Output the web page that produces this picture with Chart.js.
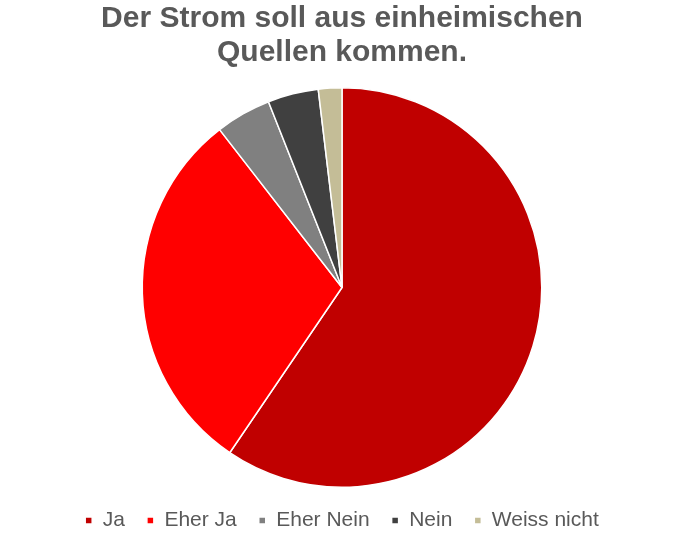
<!DOCTYPE html>
<html><head><meta charset="utf-8">
<script src="https://cdn.jsdelivr.net/npm/chart.js@4.4.1/dist/chart.umd.min.js"></script>
<style>html,body{margin:0;padding:0;background:#fff;}#wrap{width:696px;height:544px;}</style>
</head><body><div id="wrap"><canvas id="c" width="696" height="544"></canvas></div>
<script>
const categories = ["Ja", "Eher Ja", "Eher Nein", "Nein", "Weiss nicht"];
const values = [59.5, 30, 4.5, 4.1, 1.9];
const colors = ["#C00000", "#FF0000", "#808080", "#404040", "#C4BD97"];
const titleLines = ["Der Strom soll aus einheimischen", "Quellen kommen."];

new Chart(document.getElementById('c'), {
  type: 'pie',
  data: {
    labels: categories,
    datasets: [{ data: values, backgroundColor: colors, borderColor: '#ffffff', borderWidth: 1.5 }]
  },
  options: {
    responsive: false,
    animation: false,
    layout: { padding: { top: 0, bottom: 3, left: 0, right: 12 } },
    plugins: {
      tooltip: { enabled: false },
      title: {
        display: true,
        text: titleLines,
        color: '#595959',
        font: { family: 'Liberation Sans', size: 30, weight: 'bold', lineHeight: 1.133 },
        padding: { top: 2, bottom: 17 }
      },
      legend: {
        position: 'bottom',
        labels: {
          color: '#595959',
          font: { family: 'Liberation Sans', size: 21 },
          boxWidth: 7, boxHeight: 7,
          padding: 22
        }
      }
    }
  }
});
</script></body></html>
